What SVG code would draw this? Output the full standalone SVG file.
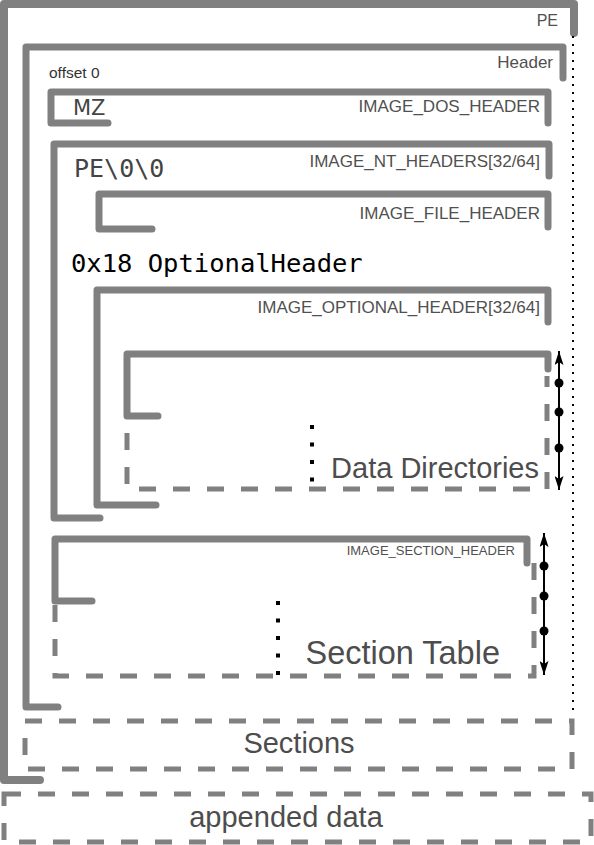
<svg xmlns="http://www.w3.org/2000/svg" width="594" height="845" viewBox="0 0 594 845">
<style>
.solid{fill:none;stroke:#808080;stroke-width:7;stroke-linecap:round;stroke-linejoin:round}
.outer{stroke-width:8}
.dash{fill:none;stroke:#808080;stroke-width:5;stroke-dasharray:17 17}
.lbl{font-family:"Liberation Sans",Arial,sans-serif;font-size:17px;fill:#505050}
.big{font-family:"Liberation Sans",Arial,sans-serif;font-size:29px;fill:#4d4d4d}
.mono{font-family:"DejaVu Sans Mono",monospace}
.dots{fill:none;stroke:#000;stroke-width:4;stroke-dasharray:4 13.5}
.fine{fill:none;stroke:#000;stroke-width:2;stroke-dasharray:2 6}
.arr{fill:none;stroke:#000;stroke-width:2;marker-start:url(#ah);marker-end:url(#ah)}
</style>
<defs>
<marker id="ah" markerUnits="userSpaceOnUse" viewBox="0 0 14 9" markerWidth="14" markerHeight="9" refX="14" refY="4.5" orient="auto-start-reverse">
<path d="M0,0 L14,4.5 L0,9 L3,4.5 z" fill="#000"/>
</marker>
</defs>

<g id="pe">
<path class="solid outer" d="M40,780 H4 V4 H574 V33"/>
<text class="lbl" x="558" y="26" text-anchor="end" style="font-size:16px">PE</text>
</g>

<g id="header">
<path class="solid" d="M58,707 H26 V47 H563 V78"/>
<text class="lbl" x="553" y="68" text-anchor="end">Header</text>
<text class="lbl" x="49" y="78" style="font-size:15.5px;fill:#333">offset 0</text>
</g>

<g id="dos_header">
<path class="solid" d="M108,123 H51 V92 H548 V123"/>
<text x="73" y="115" font-family="DejaVu Sans,sans-serif" font-size="21" fill="#444">MZ</text>
<text class="lbl" x="540" y="112" text-anchor="end">IMAGE_DOS_HEADER</text>
</g>

<g id="nt_headers">
<path class="solid" d="M100,518 H54 V144 H549 V176"/>
<text class="mono" x="74" y="177" font-size="25" fill="#444">PE\0\0</text>
<text class="lbl" x="540" y="167" text-anchor="end">IMAGE_NT_HEADERS[32/64]</text>
</g>

<g id="file_header">
<path class="solid" d="M152,229 H99 V194 H548 V227"/>
<text class="lbl" x="540" y="219" text-anchor="end">IMAGE_FILE_HEADER</text>
</g>

<g id="optional_label">
<text class="mono" x="71" y="272" font-size="25.5" fill="#000">0x18 OptionalHeader</text>
</g>

<g id="optional_header">
<path class="solid" d="M156,505 H97 V290 H548 V322"/>
<text class="lbl" x="540" y="313" text-anchor="end">IMAGE_OPTIONAL_HEADER[32/64]</text>
</g>

<g id="data_directories">
<path class="solid" d="M158,416 H127 V354 H548 V369"/>
<path class="dash" d="M127,433 V489 H547 V376"/>
<path class="dots" d="M312,425 V482"/>
<text class="big" x="539" y="478" text-anchor="end">Data Directories</text>
</g>

<g id="section_table">
<path class="solid" d="M92,601 H55 V539 H527 V563"/>
<path class="dash" d="M55,605 V676 H534 V560"/>
<path class="dots" d="M278,601 V678"/>
<text class="lbl" x="515" y="555" text-anchor="end" style="font-size:13px">IMAGE_SECTION_HEADER</text>
<text class="big" x="500" y="664" text-anchor="end" style="font-size:32.5px">Section Table</text>
</g>

<g id="sections">
<rect class="dash" x="25" y="721" width="547" height="48"/>
<text class="big" x="299" y="753" text-anchor="middle">Sections</text>
</g>

<g id="appended_data">
<rect class="dash" x="4" y="794" width="587" height="48"/>
<text class="big" x="286" y="827" text-anchor="middle">appended data</text>
</g>

<g id="connectors">
<path class="fine" d="M573,36 V716"/>
<path class="arr" d="M559,351 V490"/>
<circle cx="559" cy="383" r="4.5"/>
<circle cx="559" cy="412" r="4.5"/>
<circle cx="559" cy="448" r="4.5"/>
<path class="arr" d="M544,533 V675"/>
<circle cx="544" cy="566" r="4.5"/>
<circle cx="544" cy="596" r="4.5"/>
<circle cx="544" cy="631" r="4.5"/>
</g>
</svg>
